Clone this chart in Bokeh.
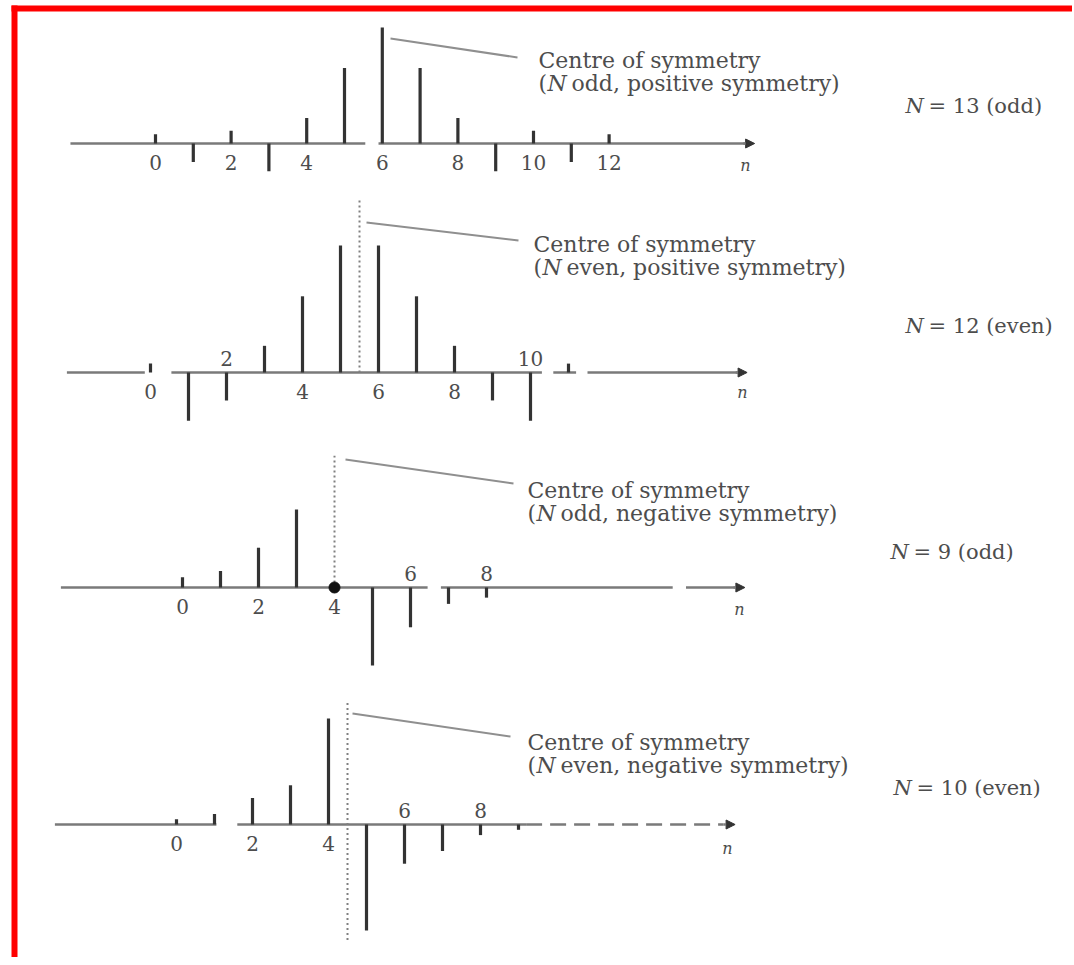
import numpy as np
from bokeh.plotting import figure
from bokeh.models import Range1d, Arrow, NormalHead
from bokeh.core.properties import value
from bokeh.embed import file_html
from bokeh.resources import INLINE

# ---------------- data (impulse responses) ----------------
n_13 = list(range(13))
h_13 = [0.08, -0.16, 0.11, -0.24, 0.22, 0.65, 1.00, 0.65, 0.22, -0.24, 0.11, -0.16, 0.08]

n_12 = list(range(12))
h_12 = [0.07, -0.38, -0.22, 0.21, 0.60, 1.00, 1.00, 0.60, 0.21, -0.22, -0.38, 0.07]

n_9 = list(range(9))
h_9 = [0.13, 0.21, 0.51, 1.00, 0.00, -1.00, -0.51, -0.21, -0.13]

n_10 = list(range(10))
h_10 = [0.05, 0.10, 0.25, 0.37, 1.00, -1.00, -0.37, -0.25, -0.10, -0.05]

ticks_13 = [0, 2, 4, 6, 8, 10, 12]
ticks_12 = [0, 2, 4, 6, 8, 10]
ticks_9 = [0, 2, 4, 6, 8]
ticks_10 = [0, 2, 4, 6, 8]

centre_13 = 6.0
centre_12 = 5.5
centre_9 = 4.0
centre_10 = 4.5

caption_1 = "Centre of symmetry"
caption_13 = "odd, positive symmetry)"
caption_12 = "even, positive symmetry)"
caption_9 = "odd, negative symmetry)"
caption_10 = "even, negative symmetry)"
label_13 = "= 13 (odd)"
label_12 = "= 12 (even)"
label_9 = "= 9 (odd)"
label_10 = "= 10 (even)"

# ---------------- layout ----------------
W, H = 1072, 957
M = 0  # page offset of the canvas
SERIF = value("DejaVu Serif")
STEM = "#333333"
AXIS = "#7a7a7a"
TXT = "#4d4d4d"

panels = [
    dict(n=n_13, h=h_13, ticks=ticks_13, above=[], centre=centre_13, dotted=None,
         n0=155, dx=37.8, base=143, unit=116,
         axis=[(-2.25, 5.55), (5.9, 15.6)], dashed=[], arrow_end=15.85,
         cap2=caption_13, Nlab=label_13,
         cap_xy=(538, 60), N_xy=(905, 105), n_xy=(745, 165), lead=((390, 38), (517, 57))),
    dict(n=n_12, h=h_12, ticks=ticks_12, above=[2, 10], centre=centre_12, dotted=(0.0, 1.37),
         n0=150, dx=38.0, base=372, unit=127,
         axis=[(-2.2, -0.15), (0.55, 10.3), (10.6, 11.2), (11.5, 15.5)], dashed=[], arrow_end=15.7,
         cap2=caption_12, Nlab=label_12,
         cap_xy=(533, 244), N_xy=(905, 325), n_xy=(742, 392), lead=((366, 222), (518, 240))),
    dict(n=n_9, h=h_9, ticks=ticks_9, above=[6, 8], centre=centre_9, dotted=(0.0, 1.69),
         n0=182, dx=38.0, base=587, unit=78,
         axis=[(-3.2, 6.45), (6.8, 12.9), (13.25, 14.6)], dashed=[], arrow_end=14.8,
         cap2=caption_9, Nlab=label_9,
         cap_xy=(527, 490), N_xy=(890, 551), n_xy=(739, 609), lead=((345, 459), (513, 483))),
    dict(n=n_10, h=h_10, ticks=ticks_10, above=[6, 8], centre=centre_10, dotted=(-1.09, 1.17),
         n0=176, dx=38.0, base=824, unit=106,
         axis=[(-3.2, 1.05), (1.6, 9.2)], dashed=[(9.2, 14.4)], arrow_end=14.7,
         cap2=caption_10, Nlab=label_10,
         cap_xy=(527, 742), N_xy=(893, 787), n_xy=(727, 848), lead=((352, 713), (510, 736))),
]

p = figure(width=W, height=H, x_range=Range1d(0, W), y_range=Range1d(H, 0),
           x_axis_type=None, y_axis_type=None, output_backend="svg",
           toolbar_location=None, min_border=0)
p.grid.visible = False
p.outline_line_color = None
p.background_fill_color = "white"
p.border_fill_color = "white"

# red frame (decoration from the scanned page)
p.quad(left=[11], right=[W], top=[5], bottom=[11], fill_color="#ff0000", line_color=None)
p.quad(left=[11], right=[17], top=[5], bottom=[H], fill_color="#ff0000", line_color=None)


def cx(px):
    return px - M


for k, P in enumerate(panels):
    xr, yr = f"x{k}", f"y{k}"
    xs = -(P["n0"] - M) / P["dx"]
    p.extra_x_ranges[xr] = Range1d(xs, xs + W / P["dx"])
    ytop = (P["base"] - M) / P["unit"]
    p.extra_y_ranges[yr] = Range1d(ytop - H / P["unit"], ytop)
    kw = dict(x_range_name=xr, y_range_name=yr)

    # n axis
    a0 = [a for a, b in P["axis"]]
    a1 = [b for a, b in P["axis"]]
    p.segment(x0=a0, y0=[0] * len(a0), x1=a1, y1=[0] * len(a1),
              line_color=AXIS, line_width=2.5, **kw)
    if P["dashed"]:
        d0 = [a for a, b in P["dashed"]]
        d1 = [b for a, b in P["dashed"]]
        p.segment(x0=d0, y0=[0] * len(d0), x1=d1, y1=[0] * len(d1),
                  line_color=AXIS, line_width=2.5, line_dash="16 8", **kw)
    p.add_layout(Arrow(end=NormalHead(size=9, fill_color="#333333", line_color="#333333"),
                       x_start=P["arrow_end"] - 0.3, y_start=0, x_end=P["arrow_end"], y_end=0,
                       line_color=AXIS, line_width=2.5, **kw))

    # centre of symmetry (dotted)
    if P["dotted"] is not None:
        p.segment(x0=[P["centre"]], y0=[P["dotted"][0]], x1=[P["centre"]], y1=[P["dotted"][1]],
                  line_color="#808080", line_width=2, line_dash="2 3", **kw)

    # stems
    p.segment(x0=P["n"], y0=[0] * len(P["n"]), x1=P["n"], y1=P["h"],
              line_color=STEM, line_width=3.2, **kw)

    if k == 2:
        p.scatter(x=[P["centre"]], y=[0], size=11, fill_color="#111111", line_color="#111111", **kw)

    # tick labels: below unless the stem is negative there
    below = [t for t in P["ticks"] if t not in P["above"]]
    if below:
        p.text(x=below, y=[-19 / P["unit"]] * len(below), text=[str(t) for t in below],
               text_font=SERIF, text_font_size="20px", text_color=TXT,
               text_align="center", text_baseline="middle", **kw)
    if P["above"]:
        p.text(x=P["above"], y=[14 / P["unit"]] * len(P["above"]), text=[str(t) for t in P["above"]],
               text_font=SERIF, text_font_size="20px", text_color=TXT,
               text_align="center", text_baseline="middle", **kw)

    # leader line
    (lx0, ly0), (lx1, ly1) = P["lead"]
    p.segment(x0=[cx(lx0)], y0=[cx(ly0)], x1=[cx(lx1)], y1=[cx(ly1)],
              line_color="#8f8f8f", line_width=2)

    # captions
    tx, ty = P["cap_xy"]
    p.text(x=[cx(tx)], y=[cx(ty)], text=[caption_1], text_font=SERIF, text_font_size="22px",
           text_color=TXT, text_baseline="middle")
    p.text(x=[cx(tx)], y=[cx(ty + 23)], text=["("], text_font=SERIF, text_font_size="22px",
           text_color=TXT, text_baseline="middle")
    p.text(x=[cx(tx + 9)], y=[cx(ty + 23)], text=["N"], text_font=SERIF, text_font_size="22px",
           text_font_style="italic", text_color=TXT, text_baseline="middle")
    p.text(x=[cx(tx + 33)], y=[cx(ty + 23)], text=[P["cap2"]], text_font=SERIF,
           text_font_size="22px", text_color=TXT, text_baseline="middle")

    Nx, Ny = P["N_xy"]
    p.text(x=[cx(Nx)], y=[cx(Ny)], text=["N"], text_font=SERIF, text_font_size="21px",
           text_font_style="italic", text_color=TXT, text_baseline="middle")
    p.text(x=[cx(Nx + 23)], y=[cx(Ny)], text=[P["Nlab"]], text_font=SERIF, text_font_size="21px",
           text_color=TXT, text_baseline="middle")

    nx, ny = P["n_xy"]
    p.text(x=[cx(nx)], y=[cx(ny)], text=["n"], text_font=SERIF, text_font_size="16px",
           text_font_style="italic", text_color=TXT, text_align="center", text_baseline="middle")

open("out.html", "w").write(file_html(p, INLINE))
